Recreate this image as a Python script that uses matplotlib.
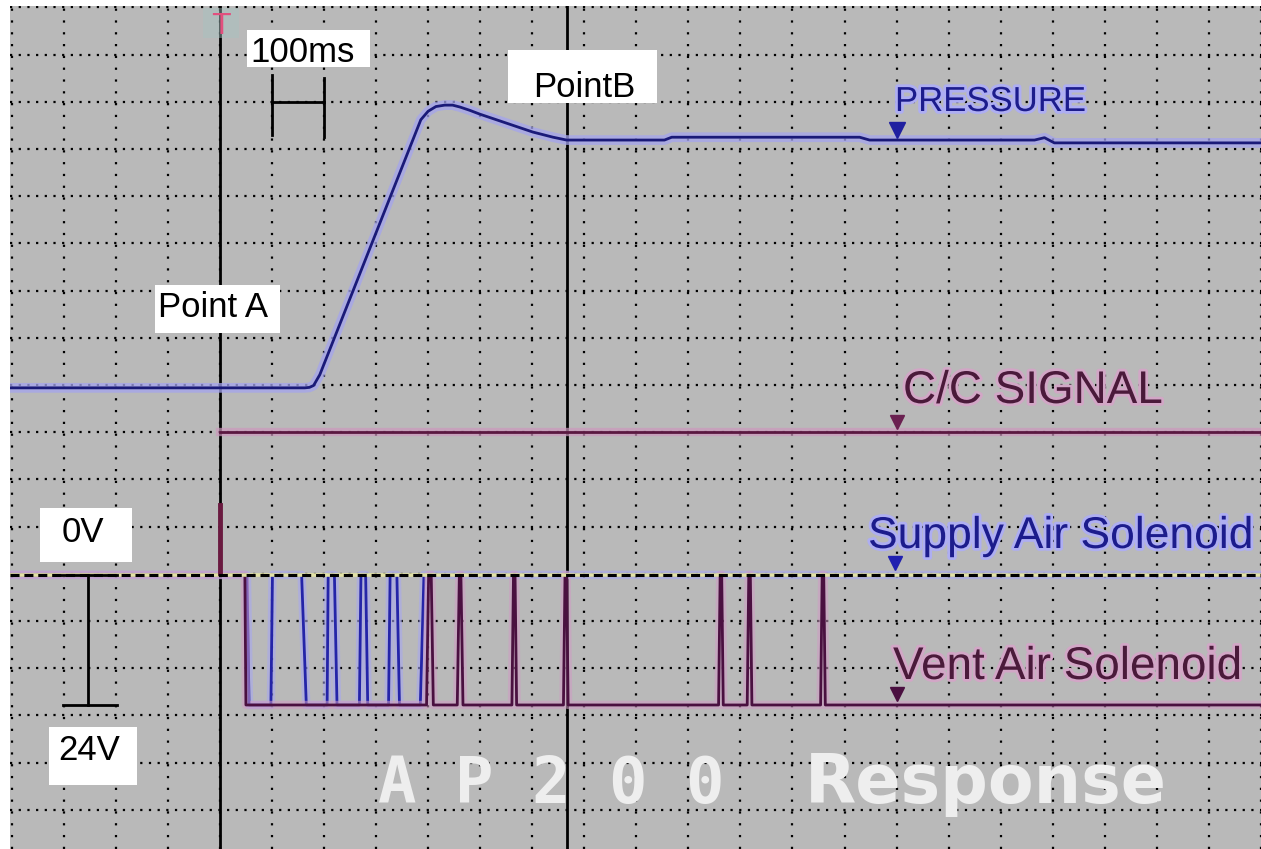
import matplotlib
matplotlib.use('Agg')
import matplotlib.pyplot as plt
import matplotlib.patheffects as pe
from matplotlib import font_manager as fm
from matplotlib.patches import Rectangle

W, H = 1261, 849
plt.rcParams['lines.scale_dashes'] = False

# ---------------- data ----------------
time_ticks = list(range(-400, 2001, 100))      # ms, 100 ms / division
div_ticks = list(range(-5, 13))                # vertical divisions

pressure_t = [-410, 163, 172, 180, 192, 386, 400, 415, 432, 447, 461, 480, 499, 550, 601, 640, 666,
              854, 868, 1229, 1248, 1565, 1584, 1603, 2010]
pressure_v = [3.94, 3.94, 3.95, 3.99, 4.22, 9.62, 9.80, 9.90, 9.93, 9.93, 9.89, 9.82, 9.74, 9.55, 9.36, 9.25, 9.19,
              9.19, 9.25, 9.25, 9.19, 9.19, 9.24, 9.13, 9.13]

cc_t = [0, 2010]
cc_v = [3.0, 3.0]

# solenoid signals in volts (0 V / 24 V)
supply_t = [-410, 52, 56, 98, 101, 157, 166, 206, 208, 220, 225, 268, 271, 280, 284,
            324, 327, 340, 345, 385, 392, 2010]
supply_v = [0, 0, 24, 24, 0, 0, 24, 24, 0, 0, 24, 24, 0, 0, 24,
            24, 0, 0, 24, 24, 0, 0]

vent_t = [-410, 48, 50, 397, 401, 406, 410, 456, 460, 463, 467, 561, 564, 567, 570,
          660, 663, 666, 669, 958, 961, 964, 967, 1013, 1016, 1019, 1022,
          1154, 1157, 1160, 1163, 2010]
vent_v = [0, 0, 24, 24, 0, 0, 24, 24, 0, 0, 24, 24, 0, 0, 24,
          24, 0, 0, 24, 24, 0, 0, 24, 24, 0, 0, 24,
          24, 0, 0, 24, 24]

cursor_a_t = 0
cursor_b_t = 666
marker_t = 1300
pressure_marker_v = 9.40
cc_marker_v = 3.22
supply_marker_V = -2.2
vent_marker_V = 22.0

# ---------------- fonts ----------------
def have(name):
    try:
        fm.findfont(fm.FontProperties(family=name), fallback_to_default=False)
        return True
    except Exception:
        return False

SANS = 'Liberation Sans' if have('Liberation Sans') else 'DejaVu Sans'
NARROW = 'Liberation Sans Narrow' if have('Liberation Sans Narrow') else None

def fx(x):
    return x / W

def fy(y):
    return 1 - y / H

# ---------------- figure ----------------
fig = plt.figure(figsize=(W / 100, H / 100), dpi=100)
fig.patch.set_facecolor('white')
rect = [10 / W, 0, (W - 10) / W, (H - 6) / H]
ax = fig.add_axes(rect)
ax.set_facecolor('#b9b9b9')
ax.set_xlim(-403.2, 1999)
ax.set_ylim(-5.83, 12.03)
ax.set_xticks(time_ticks)
ax.set_yticks(div_ticks)
ax.tick_params(length=0, labelbottom=False, labelleft=False)
for s in ax.spines.values():
    s.set_visible(False)
ax.grid(True, color='black', lw=1.6)
for ln in ax.get_xgridlines():
    ln.set_linestyle((0, (1.6, 6.9)))
for ln in ax.get_ygridlines():
    ln.set_linestyle((0, (1.6, 4.65)))

# cursors
ax.axvline(cursor_a_t, color='black', lw=2, zorder=3)
ax.axvline(cursor_b_t, color='black', lw=2, zorder=3)

halo_blue = [pe.Stroke(linewidth=7, foreground='#a4a4ee', alpha=0.75), pe.Normal()]
halo_pink = [pe.Stroke(linewidth=6, foreground='#cc98bc', alpha=0.7), pe.Normal()]

ax.plot(pressure_t, pressure_v, color='#1a1a78', lw=2, zorder=4, path_effects=halo_blue)
ax.plot(cc_t, cc_v, color='#5a1840', lw=2, zorder=4, path_effects=halo_pink)

ax.plot([marker_t], [pressure_marker_v], marker='v', ms=11, color='#2020a0', zorder=5)
ax.plot([marker_t], [cc_marker_v], marker='v', ms=10, color='#6a2050', zorder=5)

# 100 ms scale bar
ax.plot([100, 100], [9.30, 10.57], color='black', lw=2, zorder=5)
ax.plot([200, 200], [9.26, 10.51], color='black', lw=2, zorder=5)
ax.plot([100, 200], [10.0, 10.0], color='black', lw=2, zorder=5)

# ---------------- solenoid axes (volts) ----------------
ax2 = fig.add_axes(rect, sharex=ax)
ax2.set_ylim(50.58, -105.0)
ax2.patch.set_visible(False)
ax2.axis('off')

ax2.plot(supply_t, supply_v, color='#2424a8', lw=2, zorder=3,
         path_effects=[pe.Stroke(linewidth=6, foreground='#a8a8f0', alpha=0.6), pe.Normal()])
ax2.plot(vent_t, vent_v, color='#4a1040', lw=2, zorder=3,
         path_effects=[pe.Stroke(linewidth=6, foreground='#d09ac4', alpha=0.55), pe.Normal()])

# 0 V reference dashed line
ax2.axhline(0, color='#e2e2a6', lw=2.6, zorder=4)
ax2.axhline(0, color='black', lw=2.2, linestyle=(0, (6.5, 3.5)), zorder=5)

# short mark at trigger
ax2.plot([0, 0], [-12.9, -0.4], color='#6a1a40', lw=3.5, zorder=4)

ax2.plot([marker_t - 4], [supply_marker_V], marker='v', ms=10, color='#2020b0', zorder=6)
ax2.plot([marker_t], [vent_marker_V], marker='v', ms=10, color='#4a1040', zorder=6)

# voltage scale bar (0 V to 24 V)
ax2.plot([-253, -253], [0, 24], color='black', lw=2, zorder=6)
ax2.plot([-309, -198], [0, 0], color='black', lw=2, zorder=6)
ax2.plot([-301, -198], [24, 24], color='black', lw=2, zorder=6)

# ---------------- text boxes ----------------
def box(x0, y0, x1, y1):
    fig.patches.append(Rectangle((fx(x0), fy(y1)), (x1 - x0) / W, (y1 - y0) / H,
                                 transform=fig.transFigure, facecolor='white',
                                 edgecolor='none', zorder=5))

def label(x, y, s, size=25, ha='left', **kw):
    fig.text(fx(x), fy(y), s, family=SANS, size=size, ha=ha, va='baseline',
             color='black', zorder=6, **kw)

box(247, 30, 370, 67)
label(250, 62, '100ms')
box(508, 50, 657, 103)
label(533, 97, 'PointB')
box(155, 285, 280, 333)
label(158, 317, 'Point A')
box(40, 508, 132, 562)
label(62, 542, '0V')
box(49, 727, 137, 785)
label(58, 760, '24V')

# trigger marker
fig.patches.append(Rectangle((fx(203), fy(38)), 36 / W, 30 / H, transform=fig.transFigure,
                             facecolor='#a6c2c0', edgecolor='none', alpha=0.45, zorder=5))
fig.text(fx(221), fy(34), 'T', family='DejaVu Sans', size=21, ha='center', va='baseline',
         color='#e2507e', zorder=6)

# trace labels
glow_b = [pe.withStroke(linewidth=4, foreground='#aeaef2')]
glow_p = [pe.withStroke(linewidth=4, foreground='#d2a6c6')]
if NARROW:
    fig.text(fx(895), fy(111), 'PRESSURE', family=NARROW, size=31, color='#1c1c8c',
             va='baseline', zorder=6, path_effects=glow_b)
else:
    fig.text(fx(895), fy(111), 'PRESSURE', family=SANS, size=25, color='#1c1c8c',
             va='baseline', zorder=6, path_effects=glow_b)
fig.text(fx(903), fy(403), 'C/C SIGNAL', family=SANS, size=33, color='#4a1a3a',
         va='baseline', zorder=6, path_effects=glow_p)
fig.text(fx(868), fy(548), 'Supply Air Solenoid', family=SANS, size=32, color='#1c1c8c',
         va='baseline', zorder=6, path_effects=glow_b)
fig.text(fx(893), fy(679), 'Vent Air Solenoid', family=SANS, size=33, color='#4a1a3a',
         va='baseline', zorder=6, path_effects=glow_p)

# big title
fig.text(fx(378), fy(803), 'A P 2 0 0', family='DejaVu Sans Mono', weight='bold', size=46,
         color='#eeeeee', va='baseline', zorder=6)
fig.text(fx(805), fy(803), 'Response', family='DejaVu Sans', weight='bold', size=48,
         color='#eeeeee', va='baseline', zorder=6)

fig.savefig('out.png', dpi=100)
